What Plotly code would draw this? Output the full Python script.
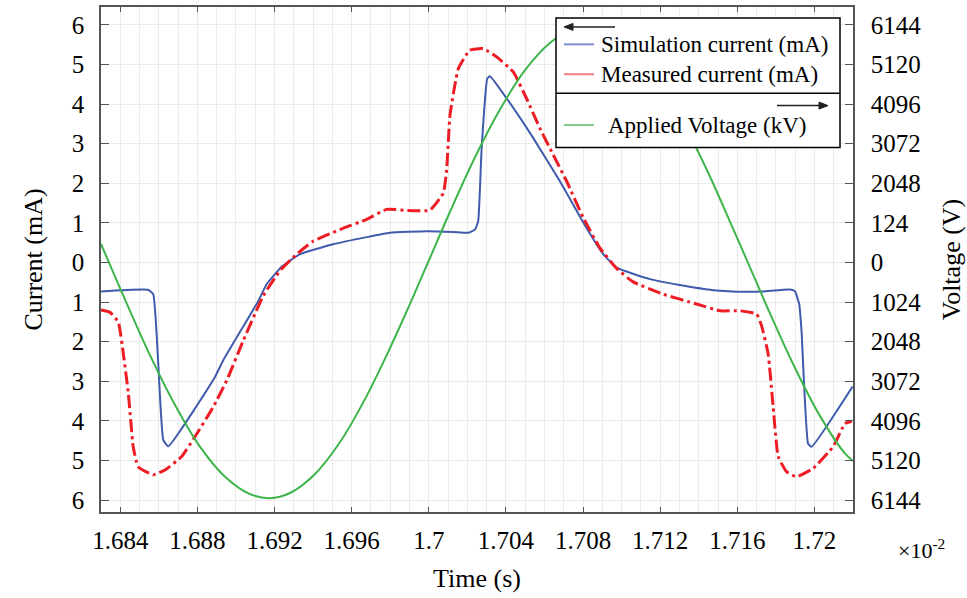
import plotly.graph_objects as go

# ---------------- data (time in units of 1e-2 s) ----------------
sim_t = [1.68300, 1.68544, 1.68571, 1.68596, 1.68623, 1.68649, 1.68891, 1.68934, 1.69116,
         1.69159, 1.69237, 1.69332, 1.69504, 1.69678, 1.69799, 1.69989, 1.70127, 1.70205,
         1.70239, 1.70256, 1.70274, 1.70303, 1.70317, 1.70404, 1.70542, 1.70680, 1.70818,
         1.70905, 1.70974, 1.71147, 1.71302, 1.71475, 1.71648, 1.71734, 1.71873, 1.71898,
         1.71921, 1.71933, 1.71967, 1.71985, 1.72198]
sim_i = [-0.73, -0.69, -0.80, -2.47, -4.48, -4.64, -2.89, -2.47, -0.97,
         -0.55, -0.11, 0.21, 0.46, 0.64, 0.75, 0.79, 0.77, 0.75,
         0.83, 1.04, 2.88, 4.64, 4.70, 4.14, 3.14, 2.05, 0.87,
         0.21, -0.13, -0.42, -0.57, -0.70, -0.74, -0.73, -0.68, -0.72,
         -1.05, -1.72, -4.57, -4.65, -3.13]

meas_t = [1.68300, 1.68347, 1.68390, 1.68416, 1.68442, 1.68467, 1.68493, 1.68571, 1.68632,
          1.68718, 1.68787, 1.68882, 1.68952, 1.69038, 1.69142, 1.69228, 1.69315, 1.69401,
          1.69539, 1.69678, 1.69781, 1.69902, 1.70006, 1.70075, 1.70092, 1.70110, 1.70153,
          1.70213, 1.70282, 1.70352, 1.70438, 1.70507, 1.70576, 1.70645, 1.70715, 1.70801,
          1.70887, 1.70974, 1.71060, 1.71216, 1.71389, 1.71510, 1.71613, 1.71700, 1.71726,
          1.71760, 1.71786, 1.71812, 1.71855, 1.71907, 1.71993, 1.72097, 1.72158, 1.72194]
meas_i = [-1.20, -1.26, -1.51, -2.31, -3.31, -4.65, -5.16, -5.36, -5.24,
          -4.90, -4.40, -3.65, -2.98, -1.97, -0.84, -0.21, 0.21, 0.54,
          0.83, 1.09, 1.34, 1.31, 1.32, 1.75, 2.30, 3.72, 4.89,
          5.36, 5.40, 5.19, 4.81, 4.14, 3.39, 2.72, 2.05, 1.13,
          0.37, -0.15, -0.49, -0.80, -1.05, -1.22, -1.22, -1.30, -1.60,
          -2.31, -3.65, -4.90, -5.28, -5.41, -5.20, -4.65, -4.07, -4.01]

volt_t = [1.68300, 1.68424, 1.68554, 1.68684, 1.68813, 1.68943, 1.69073, 1.69176, 1.69280,
          1.69410, 1.69539, 1.69669, 1.69798, 1.69902, 1.69996, 1.70110, 1.70239, 1.70369,
          1.70498, 1.70628, 1.70732, 1.70825, 1.70939, 1.71069, 1.71199, 1.71328, 1.71458,
          1.71561, 1.71660, 1.71769, 1.71898, 1.72027, 1.72157, 1.72200]
volt_v = [481, -952, -2396, -3686, -4762, -5540, -5990, -6093, -5960,
          -5468, -4649, -3533, -2222, -1075, 0, 1311, 2714, 3953,
          4966, 5673, 6001, 6093, 5949, 5458, 4628, 3533, 2222,
          1065, -61, -1311, -2714, -3953, -4930, -5130]

x_ticks = [1.684, 1.688, 1.692, 1.696, 1.700, 1.704, 1.708, 1.712, 1.716, 1.720]
x_ticktext = ["1.684", "1.688", "1.692", "1.696", "1.7", "1.704", "1.708", "1.712", "1.716", "1.72"]
i_ticks = [-6, -5, -4, -3, -2, -1, 0, 1, 2, 3, 4, 5, 6]
i_ticktext = ["6", "5", "4", "3", "2", "1", "0", "1", "2", "3", "4", "5", "6"]
v_ticks = [-6144, -5120, -4096, -3072, -2048, -1024, 0, 1024, 2048, 3072, 4096, 5120, 6144]
v_ticktext = ["6144", "5120", "4096", "3072", "2048", "1024", "0", "124", "2048", "3072", "4096", "5120", "6144"]

# ---------------- styles ----------------
FONT = "Liberation Serif"
BLUE = "#3f5bab"
RED = "#ee1c24"
GREEN = "#3db54a"
AXIS = "#555555"
GRID = "#ebebeb"

W, H = 967, 598
ML, MR, MT, MB = 101, 114, 5, 86
PW, PH = W - ML - MR, H - MT - MB
I_RANGE = [-6.3, 6.45]
V_SCALE = 1024


def px(x):
    return (x - ML) / PW


def py(y):
    return (H - MB - y) / PH


fig = go.Figure()
fig.add_trace(go.Scatter(x=volt_t, y=volt_v, yaxis="y2", mode="lines",
                         line=dict(color=GREEN, width=2, shape="spline", smoothing=1.0),
                         name="Applied Voltage (kV)", showlegend=False))
fig.add_trace(go.Scatter(x=sim_t, y=sim_i, mode="lines",
                         line=dict(color=BLUE, width=2, shape="spline", smoothing=0.4),
                         name="Simulation current (mA)", showlegend=False))
fig.add_trace(go.Scatter(x=meas_t, y=meas_i, mode="lines",
                         line=dict(color=RED, width=3, shape="spline", smoothing=0.4,
                                   dash="13px,4px,3px,4px"),
                         name="Measured current (mA)", showlegend=False))

fig.update_layout(
    width=W, height=H,
    margin=dict(l=ML, r=MR, t=MT, b=MB),
    paper_bgcolor="white", plot_bgcolor="white",
    font=dict(family=FONT, size=25, color="black"),
    xaxis=dict(range=[1.683, 1.722], tickvals=x_ticks, ticktext=x_ticktext,
               ticks="inside", ticklen=5, tickcolor=AXIS, tickwidth=1,
               showline=True, linecolor=AXIS, linewidth=1.5, mirror="ticks",
               showgrid=True, gridcolor=GRID, gridwidth=1,
               minor=dict(dtick=0.001, tick0=1.683, showgrid=True, gridcolor=GRID, gridwidth=1),
               zeroline=False, ticklabelstandoff=5,
               title=dict(text="Time (s)", standoff=16, font=dict(size=26))),
    yaxis=dict(range=I_RANGE, tickvals=i_ticks, ticktext=i_ticktext,
               ticks="inside", ticklen=8, tickcolor=AXIS, tickwidth=1,
               showline=True, linecolor=AXIS, linewidth=1.5,
               showgrid=True, gridcolor=GRID, gridwidth=1, zeroline=False,
               ticklabelstandoff=10,
               title=dict(text="Current (mA)", standoff=22, font=dict(size=26))),
    yaxis2=dict(range=[I_RANGE[0] * V_SCALE, I_RANGE[1] * V_SCALE], overlaying="y", side="right",
                tickvals=v_ticks, ticktext=v_ticktext,
                ticks="inside", ticklen=8, tickcolor=AXIS, tickwidth=1,
                showline=True, linecolor=AXIS, linewidth=1.5,
                showgrid=False, zeroline=False, ticklabelstandoff=11,
                title=dict(text="Voltage (V)", standoff=22, font=dict(size=26))),
)

# ---------------- manual legend ----------------
shapes = [
    dict(type="rect", xref="paper", yref="paper", x0=px(556), x1=px(840), y0=py(146), y1=py(16),
         fillcolor="white", line=dict(color="black", width=1.5), layer="above"),
    dict(type="line", xref="paper", yref="paper", x0=px(556), x1=px(840), y0=py(91.5), y1=py(91.5),
         line=dict(color="black", width=1.5), layer="above"),
    dict(type="line", xref="paper", yref="paper", x0=px(564), x1=px(594), y0=py(42.5), y1=py(42.5),
         line=dict(color="#7d8fcf", width=2), layer="above"),
    dict(type="line", xref="paper", yref="paper", x0=px(564), x1=px(594), y0=py(72.5), y1=py(72.5),
         line=dict(color="#f27f84", width=2), layer="above"),
    dict(type="line", xref="paper", yref="paper", x0=px(564), x1=px(594), y0=py(123.5), y1=py(123.5),
         line=dict(color="#7fcb87", width=2), layer="above"),
    # arrows
    dict(type="line", xref="paper", yref="paper", x0=px(569), x1=px(615), y0=py(25), y1=py(25),
         line=dict(color="#222222", width=1.5), layer="above"),
    dict(type="path", xref="paper", yref="paper",
         path=f"M {px(564)} {py(25)} L {px(573)} {py(21.5)} L {px(573)} {py(28.5)} Z",
         fillcolor="#222222", line=dict(color="#222222", width=1), layer="above"),
    dict(type="line", xref="paper", yref="paper", x0=px(777), x1=px(822), y0=py(104), y1=py(104),
         line=dict(color="#222222", width=1.5), layer="above"),
    dict(type="path", xref="paper", yref="paper",
         path=f"M {px(828)} {py(104)} L {px(819)} {py(100.5)} L {px(819)} {py(107.5)} Z",
         fillcolor="#222222", line=dict(color="#222222", width=1), layer="above"),
]
fig.update_layout(shapes=shapes)

anns = [
    dict(text="Simulation current (mA)", x=px(599), y=py(42.5)),
    dict(text="Measured current (mA)", x=px(599), y=py(72.5)),
    dict(text="Applied Voltage (kV)", x=px(606), y=py(124)),
]
for a in anns:
    fig.add_annotation(xref="paper", yref="paper", xanchor="left", yanchor="middle",
                       showarrow=False, font=dict(family=FONT, size=23, color="black"), **a)

# exponent label
fig.add_annotation(xref="paper", yref="paper", x=px(921), y=py(549), xanchor="center", yanchor="middle",
                   showarrow=False, text="×10<sup>-2</sup>", font=dict(family=FONT, size=22, color="black"))

fig.write_html("out.html")
